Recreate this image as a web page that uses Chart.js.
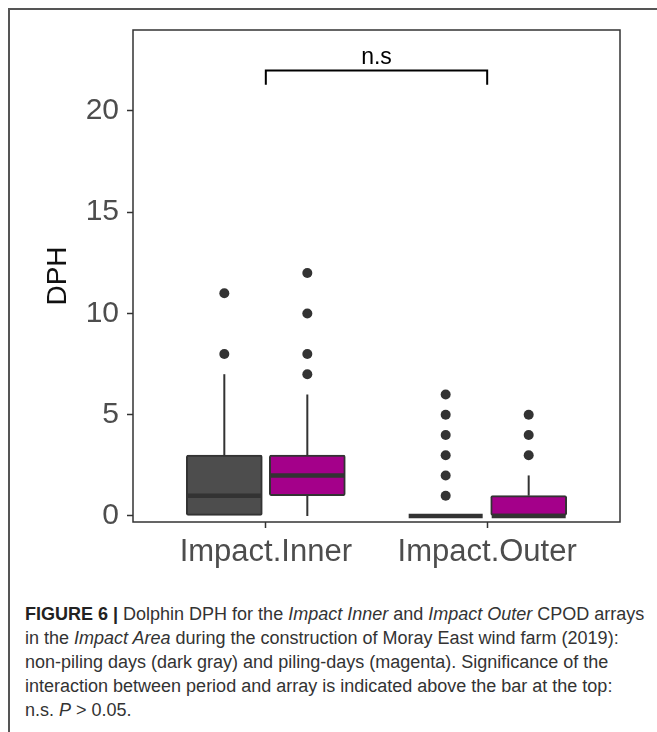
<!DOCTYPE html>
<html>
<head>
<meta charset="utf-8">
<script src="https://cdn.jsdelivr.net/npm/chart.js@4"></script>
<style>
  html, body { margin: 0; padding: 0; background: #fff; }
  body { width: 657px; height: 732px; position: relative; overflow: hidden; font-family: "Liberation Sans", Arial, sans-serif; }
  #frame { position: absolute; left: 8px; top: 8px; width: 700px; height: 800px; border-top: 2px solid #555; border-left: 2px solid #555; }
  #chartBox { position: absolute; left: 0; top: 0; }
  #caption { position: absolute; left: 25px; top: 602px; font-size: 18px; line-height: 24px; color: #333; white-space: nowrap; }
  #caption b { color: #222; }
</style>
</head>
<body>
<div id="frame"></div>
<canvas id="chartBox" width="657" height="580"></canvas>
<div id="caption">
  <div><b>FIGURE 6 |</b> Dolphin DPH for the <i>Impact Inner</i> and <i>Impact Outer</i> CPOD arrays</div>
  <div>in the <i>Impact Area</i> during the construction of Moray East wind farm (2019):</div>
  <div>non-piling days (dark gray) and piling-days (magenta). Significance of the</div>
  <div>interaction between period and array is indicated above the bar at the top:</div>
  <div>n.s. <i>P</i> &gt; 0.05.</div>
</div>
<script>
const categories = ["Impact.Inner", "Impact.Outer"];
const yTicks = [0, 5, 10, 15, 20];

// non-piling days (dark gray)
const nonPilingLow = [0, 0];
const nonPilingQ1 = [0, 0];
const nonPilingMedian = [1, 0];
const nonPilingQ3 = [3, 0];
const nonPilingHigh = [7, 0];
const nonPilingOutliers = [[8, 11], [1, 2, 3, 4, 5, 6]];

// piling days (magenta)
const pilingLow = [0, 0];
const pilingQ1 = [1, 0];
const pilingMedian = [2, 0];
const pilingQ3 = [3, 1];
const pilingHigh = [6, 2];
const pilingOutliers = [[7, 8, 10, 12], [3, 4, 5]];

// significance bracket between the two arrays
const bracketLevel = 22;
const bracketDrop = 21.3;
const bracketLabel = "n.s";

const dodge = 0.1875;
const xPos = (i, side) => i + 1 + side * dodge;

const groups = [
  { low: nonPilingLow, q1: nonPilingQ1, med: nonPilingMedian, q3: nonPilingQ3, high: nonPilingHigh, out: nonPilingOutliers, side: -1, color: "#4d4d4d" },
  { low: pilingLow, q1: pilingQ1, med: pilingMedian, q3: pilingQ3, high: pilingHigh, out: pilingOutliers, side: 1, color: "#a4008a" }
];

const boxDatasets = groups.map(g => ({
  type: "bar",
  data: categories.map((c, i) => ({ x: xPos(i, g.side), y: [g.q1[i], g.q3[i]] })),
  backgroundColor: g.color,
  borderColor: "#333",
  borderWidth: 2,
  borderSkipped: false,
  borderRadius: 2,
  barThickness: 76,
  grouped: false,
  order: 2
}));

const outlierDatasets = groups.map(g => ({
  type: "scatter",
  data: categories.flatMap((c, i) => g.out[i].map(v => ({ x: xPos(i, g.side), y: v }))),
  pointRadius: 5,
  pointBackgroundColor: "#333",
  pointBorderWidth: 0,
  showLine: false,
  order: 1
}));

const boxExtras = {
  id: "boxExtras",
  beforeDatasetsDraw(chart) {
    const { ctx, scales: { x, y } } = chart;
    ctx.save();
    ctx.strokeStyle = "#333";
    ctx.lineWidth = 2;
    groups.forEach(g => {
      categories.forEach((c, i) => {
        const px = x.getPixelForValue(xPos(i, g.side));
        ctx.beginPath();
        ctx.moveTo(px, y.getPixelForValue(g.q3[i]));
        ctx.lineTo(px, y.getPixelForValue(g.high[i]));
        ctx.moveTo(px, y.getPixelForValue(g.q1[i]));
        ctx.lineTo(px, y.getPixelForValue(g.low[i]));
        ctx.stroke();
      });
    });
    ctx.restore();
  },
  afterDatasetsDraw(chart) {
    const { ctx, chartArea, scales: { x, y } } = chart;
    ctx.save();
    // medians
    ctx.strokeStyle = "#333";
    ctx.lineWidth = 4.5;
    groups.forEach((g, gi) => {
      const meta = chart.getDatasetMeta(gi);
      categories.forEach((c, i) => {
        const bar = meta.data[i];
        const py = y.getPixelForValue(g.med[i]);
        ctx.beginPath();
        ctx.moveTo(bar.x - bar.width / 2 + 1, py);
        ctx.lineTo(bar.x + bar.width / 2 - 1, py);
        ctx.stroke();
      });
    });
    // panel border
    ctx.lineWidth = 1.5;
    ctx.strokeStyle = "#333";
    ctx.strokeRect(chartArea.left, chartArea.top, chartArea.right - chartArea.left, chartArea.bottom - chartArea.top);
    // significance bracket
    const x1 = x.getPixelForValue(1), x2 = x.getPixelForValue(2);
    const yTop = y.getPixelForValue(bracketLevel), yEnd = y.getPixelForValue(bracketDrop);
    ctx.strokeStyle = "#000";
    ctx.lineWidth = 2;
    ctx.beginPath();
    ctx.moveTo(x1, yEnd);
    ctx.lineTo(x1, yTop);
    ctx.lineTo(x2, yTop);
    ctx.lineTo(x2, yEnd);
    ctx.stroke();
    ctx.fillStyle = "#000";
    ctx.font = '23px "Liberation Sans", Arial, sans-serif';
    ctx.textAlign = "center";
    ctx.textBaseline = "alphabetic";
    ctx.fillText(bracketLabel, (x1 + x2) / 2, yTop - 6);
    ctx.restore();
  }
};

new Chart(document.getElementById("chartBox"), {
  type: "bar",
  data: { datasets: [...boxDatasets, ...outlierDatasets] },
  plugins: [boxExtras],
  options: {
    responsive: false,
    animation: false,
    devicePixelRatio: 1,
    layout: { padding: { top: 30, right: 37, left: 0, bottom: 0 } },
    plugins: { legend: { display: false }, tooltip: { enabled: false } },
    scales: {
      x: {
        type: "linear",
        min: 0.4,
        max: 2.6,
        offset: false,
        afterBuildTicks: s => { s.ticks = categories.map((c, i) => ({ value: i + 1 })); },
        afterFit: s => { s.height = 58; },
        ticks: {
          autoSkip: false,
          maxRotation: 0,
          padding: 6,
          color: "#4d4d4d",
          font: { family: '"Liberation Sans", Arial, sans-serif', size: 31 },
          callback: (v, i) => categories[i]
        },
        grid: { drawOnChartArea: false, offset: false, tickLength: 6, tickColor: "#333", tickWidth: 1.5 },
        border: { display: false }
      },
      y: {
        min: -0.3,
        max: 24,
        afterBuildTicks: s => { s.ticks = yTicks.map(v => ({ value: v })); },
        afterFit: s => { s.width = 133; },
        ticks: {
          padding: 8,
          color: "#4d4d4d",
          font: { family: '"Liberation Sans", Arial, sans-serif', size: 30 }
        },
        grid: { drawOnChartArea: false, tickLength: 6, tickColor: "#333", tickWidth: 1.5 },
        border: { display: false },
        title: {
          display: true,
          text: "DPH",
          color: "#111",
          font: { family: '"Liberation Sans", Arial, sans-serif', size: 28 },
          padding: { top: 41, bottom: 0 }
        }
      }
    }
  }
});
</script>
</body>
</html>
